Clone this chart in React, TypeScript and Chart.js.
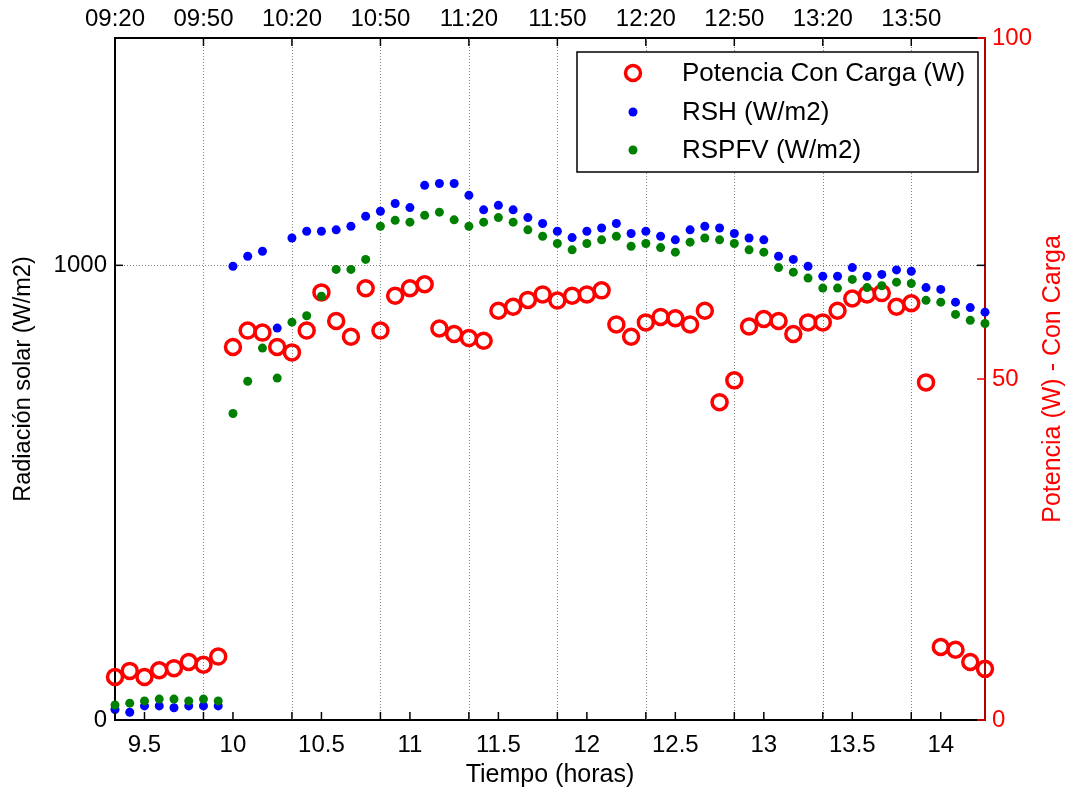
import React, { useEffect, useRef } from 'react';
import { Chart, registerables } from 'chart.js';
Chart.register(...registerables);

const TIMES = [
  '09:20', '09:25', '09:30', '09:35', '09:40', '09:45', '09:50', '09:55',
  '10:00', '10:05', '10:10', '10:15', '10:20', '10:25', '10:30', '10:35', '10:40', '10:45', '10:50', '10:55',
  '11:00', '11:05', '11:10', '11:15', '11:20', '11:25', '11:30', '11:35', '11:40', '11:45', '11:50', '11:55',
  '12:00', '12:05', '12:10', '12:15', '12:20', '12:25', '12:30', '12:35', '12:40', '12:45', '12:50', '12:55',
  '13:00', '13:05', '13:10', '13:15', '13:20', '13:25', '13:30', '13:35', '13:40', '13:45', '13:50', '13:55',
  '14:00', '14:05', '14:10', '14:15',
];

const POTENCIA = [
  6.3, 7.2, 6.3, 7.3, 7.6, 8.5, 8.1, 9.3,
  54.7, 57.1, 56.8, 54.7, 53.9, 57.1, 62.7, 58.5, 56.2, 63.3, 57.1, 62.2,
  63.3, 63.9, 57.4, 56.6, 56.0, 55.6, 60.0, 60.6, 61.6, 62.4, 61.5, 62.2,
  62.4, 63.0, 58.0, 56.2, 58.3, 59.1, 58.9, 58.0, 60.0, 46.6, 49.8, 57.7,
  58.8, 58.5, 56.6, 58.3, 58.3, 60.0, 61.8, 62.4, 62.6, 60.6, 61.1, 49.5,
  10.7, 10.3, 8.5, 7.5,
];

const RSH = [
  23, 17, 31, 31, 27, 31, 31, 31,
  998, 1020, 1031, 862, 1060, 1075, 1075, 1078, 1086, 1108, 1119, 1136,
  1127, 1176, 1180, 1180, 1154, 1122, 1132, 1122, 1105, 1092, 1075, 1061,
  1075, 1082, 1092, 1070, 1075, 1064, 1056, 1078, 1086, 1082, 1070, 1060,
  1056, 1020, 1013, 998, 976, 976, 995, 976, 980, 990, 987, 951,
  947, 919, 907, 897,
];

const RSPFV = [
  33, 37, 42, 46, 46, 42, 46, 42,
  674, 745, 818, 752, 875, 889, 932, 991, 991, 1013, 1086, 1099,
  1095, 1110, 1117, 1100, 1086, 1095, 1105, 1095, 1078, 1064, 1048, 1034,
  1048, 1056, 1064, 1042, 1048, 1039, 1029, 1051, 1060, 1056, 1048, 1034,
  1029, 995, 985, 972, 950, 950, 969, 951, 955, 963, 960, 923,
  919, 892, 879, 872,
];

const BOTTOM_TICKS = [9.5, 10, 10.5, 11, 11.5, 12, 12.5, 13, 13.5, 14];
const TOP_TICKS = ['09:20', '09:50', '10:20', '10:50', '11:20', '11:50', '12:20', '12:50', '13:20', '13:50'];
const LEFT_TICKS = [0, 1000];
const RIGHT_TICKS = [0, 50, 100];

const LEGEND_LABELS = ['Potencia Con Carga (W)', 'RSH (W/m2)', 'RSPFV (W/m2)'];

const toHours = (s: string) => {
  const [h, m] = s.split(':').map(Number);
  return h + m / 60;
};

const FONT = "'Liberation Sans', Arial, Helvetica, sans-serif";
const RED = '#ff0000';
const BLUE = '#0000ff';
const GREEN = '#008000';

export default function App() {
  const ref = useRef<HTMLCanvasElement | null>(null);

  useEffect(() => {
    if (!ref.current) return;
    const xs = TIMES.map(toHours);
    const xMin = xs[0];
    const xMax = xs[xs.length - 1];

    const decor = {
      id: 'decor',
      beforeDatasetsDraw(chart: any) {
        const { ctx, chartArea, scales } = chart;
        const { left, right, top, bottom } = chartArea;
        ctx.save();
        ctx.strokeStyle = '#7f7f7f';
        ctx.lineWidth = 1;
        ctx.setLineDash([1, 2]);
        TOP_TICKS.forEach((t) => {
          const x = Math.round(scales.x2.getPixelForValue(toHours(t))) + 0.5;
          if (x - left < 3 || right - x < 3) return;
          ctx.beginPath();
          ctx.moveTo(x, top);
          ctx.lineTo(x, bottom);
          ctx.stroke();
        });
        LEFT_TICKS.forEach((v) => {
          const y = Math.round(scales.y.getPixelForValue(v)) + 0.5;
          if (bottom - y < 3 || y - top < 3) return;
          ctx.beginPath();
          ctx.moveTo(left, y);
          ctx.lineTo(right, y);
          ctx.stroke();
        });
        ctx.restore();
      },
      afterDraw(chart: any) {
        const { ctx, chartArea, scales } = chart;
        const { left, right, top, bottom } = chartArea;
        const TL = 8;
        ctx.save();
        ctx.setLineDash([]);
        ctx.lineWidth = 1.5;
        ctx.strokeStyle = '#000';
        const bottomVals = [...BOTTOM_TICKS, ...TOP_TICKS.map(toHours)];
        bottomVals.forEach((v) => {
          const x = scales.x.getPixelForValue(v);
          ctx.beginPath();
          ctx.moveTo(x, bottom);
          ctx.lineTo(x, bottom - TL);
          ctx.stroke();
        });
        TOP_TICKS.forEach((t) => {
          const x = scales.x2.getPixelForValue(toHours(t));
          ctx.beginPath();
          ctx.moveTo(x, top);
          ctx.lineTo(x, top + TL);
          ctx.stroke();
        });
        LEFT_TICKS.forEach((v) => {
          const y = scales.y.getPixelForValue(v);
          ctx.beginPath();
          ctx.moveTo(left, y);
          ctx.lineTo(left + TL, y);
          ctx.stroke();
          ctx.beginPath();
          ctx.moveTo(right, y);
          ctx.lineTo(right - TL, y);
          ctx.stroke();
        });
        ctx.strokeStyle = RED;
        RIGHT_TICKS.forEach((v) => {
          const y = scales.y2.getPixelForValue(v);
          ctx.beginPath();
          ctx.moveTo(right, y);
          ctx.lineTo(right - TL, y);
          ctx.stroke();
        });

        // right axis title (reads bottom-to-top)
        ctx.save();
        ctx.translate(1053, (top + bottom) / 2);
        ctx.rotate(-Math.PI / 2);
        ctx.fillStyle = RED;
        ctx.font = `25px ${FONT}`;
        ctx.textAlign = 'center';
        ctx.textBaseline = 'middle';
        ctx.fillText('Potencia (W) - Con Carga', 0, 0);
        ctx.restore();

        // legend
        const bx = right - 408;
        const by = top + 14;
        const bw = 401;
        const bh = 120;
        ctx.fillStyle = '#fff';
        ctx.fillRect(bx, by, bw, bh);
        ctx.strokeStyle = '#000';
        ctx.lineWidth = 1.5;
        ctx.strokeRect(bx, by, bw, bh);
        const rows = [by + 21, by + 60, by + 98];
        const mx = bx + 56;
        ctx.strokeStyle = RED;
        ctx.lineWidth = 3.5;
        ctx.beginPath();
        ctx.arc(mx, rows[0], 7.5, 0, Math.PI * 2);
        ctx.stroke();
        ctx.fillStyle = BLUE;
        ctx.beginPath();
        ctx.arc(mx, rows[1], 4.5, 0, Math.PI * 2);
        ctx.fill();
        ctx.fillStyle = GREEN;
        ctx.beginPath();
        ctx.arc(mx, rows[2], 4.5, 0, Math.PI * 2);
        ctx.fill();
        ctx.fillStyle = '#000';
        ctx.font = `26px ${FONT}`;
        ctx.textAlign = 'left';
        ctx.textBaseline = 'middle';
        LEGEND_LABELS.forEach((l, i) => ctx.fillText(l, bx + 105, rows[i] + 1));
        ctx.restore();
      },
    };

    const tickFont = { family: FONT, size: 24 };

    const chart = new Chart(ref.current, {
      type: 'scatter',
      data: {
        datasets: [
          {
            label: LEGEND_LABELS[0],
            data: xs.map((x, i) => ({ x, y: POTENCIA[i] })),
            yAxisID: 'y2',
            xAxisID: 'x',
            pointStyle: 'circle',
            pointRadius: 7.5,
            pointBorderWidth: 3.5,
            borderColor: RED,
            pointBorderColor: RED,
            backgroundColor: 'rgba(0,0,0,0)',
            pointBackgroundColor: 'rgba(0,0,0,0)',
            showLine: false,
            clip: false,
            order: 3,
          } as any,
          {
            label: LEGEND_LABELS[1],
            data: xs.map((x, i) => ({ x, y: RSH[i] })),
            yAxisID: 'y',
            xAxisID: 'x',
            pointRadius: 4.5,
            pointBorderWidth: 0,
            backgroundColor: BLUE,
            pointBackgroundColor: BLUE,
            borderColor: BLUE,
            showLine: false,
            clip: false,
            order: 2,
          } as any,
          {
            label: LEGEND_LABELS[2],
            data: xs.map((x, i) => ({ x, y: RSPFV[i] })),
            yAxisID: 'y',
            xAxisID: 'x',
            pointRadius: 4.5,
            pointBorderWidth: 0,
            backgroundColor: GREEN,
            pointBackgroundColor: GREEN,
            borderColor: GREEN,
            showLine: false,
            clip: false,
            order: 1,
          } as any,
        ],
      },
      options: {
        responsive: false,
        animation: false,
        layout: { padding: 0 },
        plugins: {
          legend: { display: false },
          tooltip: { enabled: false },
        },
        scales: {
          x: {
            type: 'linear',
            position: 'bottom',
            min: xMin,
            max: xMax,
            afterBuildTicks: (s: any) => {
              s.ticks = BOTTOM_TICKS.map((v) => ({ value: v }));
            },
            afterFit: (s: any) => {
              s.height = 77;
            },
            ticks: {
              autoSkip: false,
              maxRotation: 0,
              color: '#000',
              font: tickFont,
              padding: 11,
              callback: (v: any) => String(v),
            },
            grid: { display: false, drawTicks: false },
            border: { display: true, color: '#000', width: 2 },
            title: {
              display: true,
              text: 'Tiempo (horas)',
              color: '#000',
              font: { family: FONT, size: 25 },
              padding: { top: 0, bottom: 7 },
            },
          },
          x2: {
            type: 'linear',
            axis: 'x',
            position: 'top',
            min: xMin,
            max: xMax,
            afterBuildTicks: (s: any) => {
              s.ticks = TOP_TICKS.map((t) => ({ value: toHours(t) }));
            },
            afterFit: (s: any) => {
              s.height = 38;
            },
            ticks: {
              autoSkip: false,
              maxRotation: 0,
              color: '#000',
              font: tickFont,
              padding: 4,
              callback: (_v: any, i: number) => TOP_TICKS[i],
            },
            grid: { display: false, drawTicks: false },
            border: { display: true, color: '#000', width: 2 },
          },
          y: {
            type: 'linear',
            position: 'left',
            min: 0,
            max: 1500,
            afterBuildTicks: (s: any) => {
              s.ticks = LEFT_TICKS.map((v) => ({ value: v }));
            },
            afterFit: (s: any) => {
              s.width = 115;
            },
            ticks: {
              autoSkip: false,
              color: '#000',
              font: tickFont,
              padding: 8,
              callback: (v: any) => String(v),
            },
            grid: { display: false, drawTicks: false },
            border: { display: true, color: '#000', width: 2 },
            title: {
              display: true,
              text: 'Radiación solar (W/m2)',
              color: '#000',
              font: { family: FONT, size: 23.5 },
              padding: { top: 9, bottom: 0 },
            },
          },
          y2: {
            type: 'linear',
            axis: 'y',
            position: 'right',
            min: 0,
            max: 100,
            afterBuildTicks: (s: any) => {
              s.ticks = RIGHT_TICKS.map((v) => ({ value: v }));
            },
            afterFit: (s: any) => {
              s.width = 91;
            },
            ticks: {
              autoSkip: false,
              color: RED,
              font: tickFont,
              padding: 7,
              callback: (v: any) => String(v),
            },
            grid: { display: false, drawTicks: false },
            border: { display: true, color: '#b40000', width: 2 },
          },
        },
      } as any,
      plugins: [decor],
    });
    return () => chart.destroy();
  }, []);

  return (
    <div style={{ position: 'absolute', left: 0, top: 0, width: 1076, height: 797, background: '#fff' }}>
      <canvas ref={ref} width={1076} height={797} />
    </div>
  );
}
